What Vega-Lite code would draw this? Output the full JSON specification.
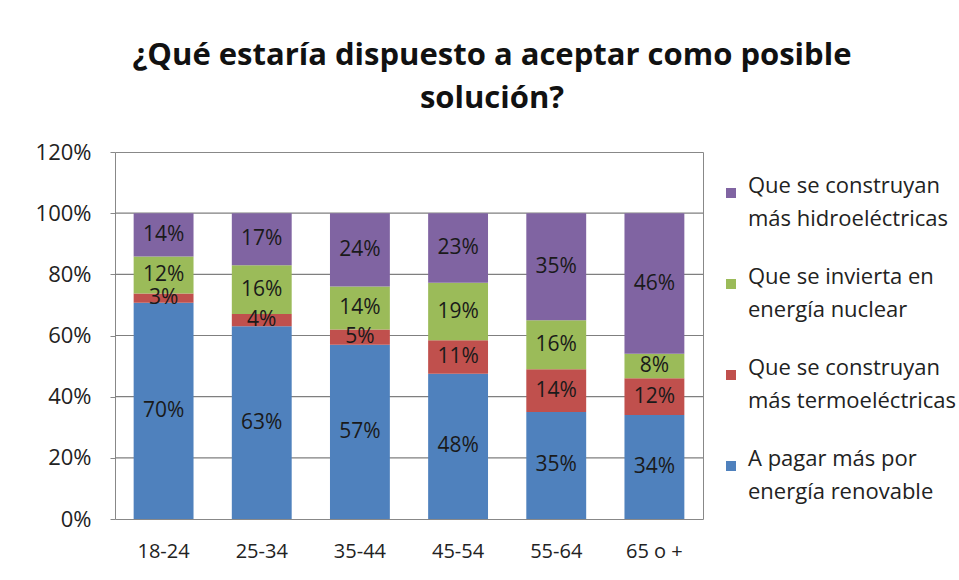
{
  "$schema": "https://vega.github.io/schema/vega-lite/v6.json",
  "width": 588,
  "height": 367,
  "autosize": {"type": "none"},
  "padding": {"left": 115, "top": 152, "right": 256, "bottom": 61},
  "background": "white",
  "title": {
    "text": ["¿Qué estaría dispuesto a aceptar como posible", "solución?"],
    "font": "Open Sans",
    "fontSize": 31,
    "fontWeight": "bold",
    "color": "#111",
    "anchor": "middle",
    "frame": "group",
    "dx": 83,
    "baseline": "bottom",
    "lineHeight": 43,
    "offset": -5
  },
  "datasets": {
    "survey": [
      {"age": "18-24", "serie": "A pagar más por energía renovable", "idx": 1, "v": 0.70},
      {"age": "18-24", "serie": "Que se construyan más termoeléctricas", "idx": 2, "v": 0.03},
      {"age": "18-24", "serie": "Que se invierta en energía nuclear", "idx": 3, "v": 0.12},
      {"age": "18-24", "serie": "Que se construyan más hidroeléctricas", "idx": 4, "v": 0.14},
      {"age": "25-34", "serie": "A pagar más por energía renovable", "idx": 1, "v": 0.63},
      {"age": "25-34", "serie": "Que se construyan más termoeléctricas", "idx": 2, "v": 0.04},
      {"age": "25-34", "serie": "Que se invierta en energía nuclear", "idx": 3, "v": 0.16},
      {"age": "25-34", "serie": "Que se construyan más hidroeléctricas", "idx": 4, "v": 0.17},
      {"age": "35-44", "serie": "A pagar más por energía renovable", "idx": 1, "v": 0.57},
      {"age": "35-44", "serie": "Que se construyan más termoeléctricas", "idx": 2, "v": 0.05},
      {"age": "35-44", "serie": "Que se invierta en energía nuclear", "idx": 3, "v": 0.14},
      {"age": "35-44", "serie": "Que se construyan más hidroeléctricas", "idx": 4, "v": 0.24},
      {"age": "45-54", "serie": "A pagar más por energía renovable", "idx": 1, "v": 0.48},
      {"age": "45-54", "serie": "Que se construyan más termoeléctricas", "idx": 2, "v": 0.11},
      {"age": "45-54", "serie": "Que se invierta en energía nuclear", "idx": 3, "v": 0.19},
      {"age": "45-54", "serie": "Que se construyan más hidroeléctricas", "idx": 4, "v": 0.23},
      {"age": "55-64", "serie": "A pagar más por energía renovable", "idx": 1, "v": 0.35},
      {"age": "55-64", "serie": "Que se construyan más termoeléctricas", "idx": 2, "v": 0.14},
      {"age": "55-64", "serie": "Que se invierta en energía nuclear", "idx": 3, "v": 0.16},
      {"age": "55-64", "serie": "Que se construyan más hidroeléctricas", "idx": 4, "v": 0.35},
      {"age": "65 o +", "serie": "A pagar más por energía renovable", "idx": 1, "v": 0.34},
      {"age": "65 o +", "serie": "Que se construyan más termoeléctricas", "idx": 2, "v": 0.12},
      {"age": "65 o +", "serie": "Que se invierta en energía nuclear", "idx": 3, "v": 0.08},
      {"age": "65 o +", "serie": "Que se construyan más hidroeléctricas", "idx": 4, "v": 0.46}
    ],
    "gridvals": [
      {"g": 0.2}, {"g": 0.4}, {"g": 0.6}, {"g": 0.8}, {"g": 1.0}
    ]
  },
  "layer": [
    {
      "data": {"name": "gridvals"},
      "mark": {"type": "rule", "color": "#7f7f7f", "strokeWidth": 1.2},
      "encoding": {
        "x": {"value": 0},
        "x2": {"value": "width"},
        "y": {
          "field": "g",
          "type": "quantitative",
          "scale": {"domain": [0, 1.2]},
          "axis": {
            "title": null,
            "format": ".0%",
            "values": [0, 0.2, 0.4, 0.6, 0.8, 1.0, 1.2],
            "grid": false
          }
        }
      }
    },
    {
      "data": {"name": "survey"},
      "mark": {"type": "bar"},
      "encoding": {
        "x": {
          "field": "age",
          "type": "nominal",
          "sort": null,
          "scale": {"paddingInner": 0.39, "paddingOuter": 0.19},
          "axis": {
            "title": null,
            "labelAngle": 0,
            "labelFont": "Open Sans",
            "labelFontSize": 20,
            "labelColor": "#222",
            "labelPadding": 22,
            "ticks": false,
            "domain": false,
            "grid": false
          }
        },
        "y": {
          "field": "v",
          "type": "quantitative",
          "stack": "normalize",
          "axis": {
            "title": null,
            "format": ".0%",
            "values": [0, 0.2, 0.4, 0.6, 0.8, 1.0, 1.2],
            "grid": false
          }
        },
        "color": {
          "field": "serie",
          "type": "nominal",
          "scale": {
            "domain": [
              "Que se construyan más hidroeléctricas",
              "Que se invierta en energía nuclear",
              "Que se construyan más termoeléctricas",
              "A pagar más por energía renovable"
            ],
            "range": ["#8064A2", "#9BBB59", "#C0504D", "#4F81BD"]
          },
          "legend": {
            "title": null,
            "orient": "none",
            "legendX": 605,
            "legendY": 30,
            "symbolType": "square",
            "symbolSize": 100,
            "symbolStrokeWidth": 0,
            "symbolOpacity": 1,
            "labelFont": "Open Sans",
            "labelFontSize": 22,
            "labelColor": "#222",
            "labelLimit": 300,
            "labelBaseline": "alphabetic",
            "labelOffset": 6,
            "rowPadding": 36,
            "labelExpr": "datum.label == 'Que se construyan más hidroeléctricas' ? ['Que se construyan', 'más hidroeléctricas'] : datum.label == 'Que se invierta en energía nuclear' ? ['Que se invierta en', 'energía nuclear'] : datum.label == 'Que se construyan más termoeléctricas' ? ['Que se construyan', 'más termoeléctricas'] : ['A pagar más por', 'energía renovable']"
          }
        },
        "order": {"field": "idx", "type": "quantitative", "sort": "ascending"}
      }
    },
    {
      "data": {"name": "survey"},
      "transform": [
        {"stack": "v", "groupby": ["age"], "sort": [{"field": "idx", "order": "ascending"}], "offset": "normalize", "as": ["y0", "y1"]},
        {"calculate": "(datum.y0 + datum.y1) / 2", "as": "mid"}
      ],
      "mark": {"type": "text", "font": "Open Sans", "fontSize": 21, "color": "#1a1a1a", "baseline": "middle"},
      "encoding": {
        "x": {"field": "age", "type": "nominal", "sort": null},
        "y": {
          "field": "mid",
          "type": "quantitative",
          "axis": {
            "title": null,
            "format": ".0%",
            "values": [0, 0.2, 0.4, 0.6, 0.8, 1.0, 1.2],
            "grid": false
          }
        },
        "text": {"field": "v", "type": "quantitative", "format": ".0%"}
      }
    }
  ],
  "config": {
    "view": {"stroke": "#888", "strokeWidth": 1},
    "style": {"guide-label": {"lineHeight": 33}},
    "axisY": {
      "grid": false,
      "domain": false,
      "tickSize": 5,
      "tickColor": "#888",
      "labelPadding": 19,
      "labelFont": "Open Sans",
      "labelFontSize": 22,
      "labelColor": "#222"
    }
  }
}
